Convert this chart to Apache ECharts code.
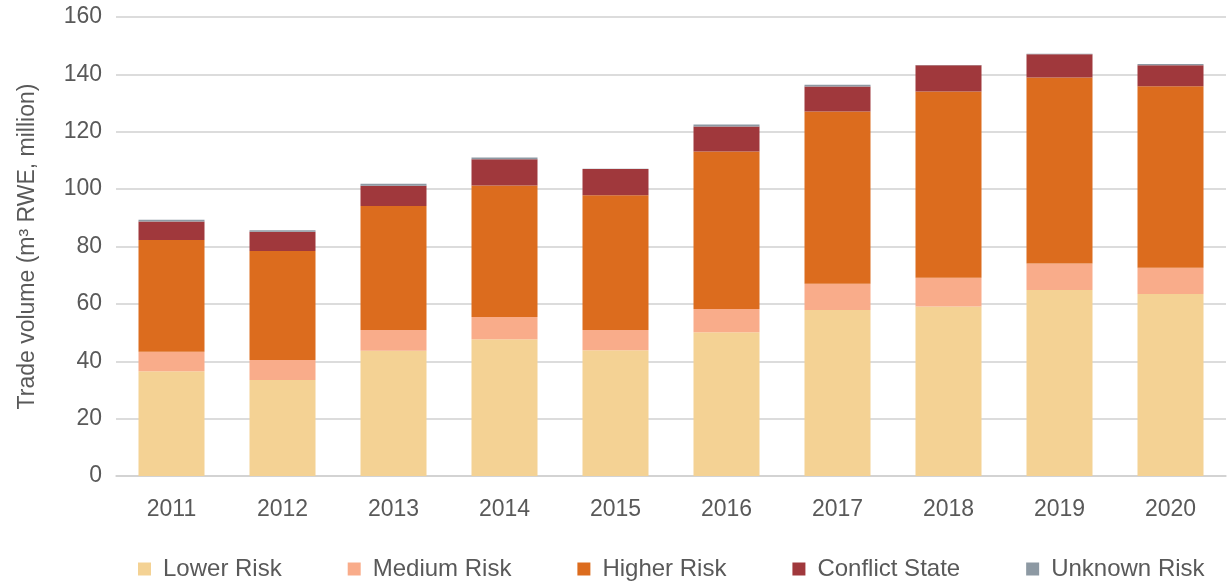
<!DOCTYPE html>
<html>
<head>
<meta charset="utf-8">
<script src="https://cdn.jsdelivr.net/npm/echarts@6/dist/echarts.min.js"></script>
<style>
    html, body { margin: 0; padding: 0; background: #ffffff; }
    #chart { width: 1227px; height: 584px; }
</style>
</head>
<body>
<div id="chart"></div>
<script>
var years = ['2011', '2012', '2013', '2014', '2015', '2016', '2017', '2018', '2019', '2020'];
var yTicks = [0, 20, 40, 60, 80, 100, 120, 140, 160];

var lowerRisk    = [36.5, 33.5, 43.7, 47.7, 43.8, 50.1, 57.9, 59.1, 64.8, 63.4];
var mediumRisk   = [6.8, 6.9, 7.2, 7.7, 7.1, 8.1, 9.1, 10.0, 9.3, 9.2];
var higherRisk   = [39.0, 38.0, 43.2, 45.9, 47.0, 54.9, 60.1, 64.9, 64.8, 63.3];
var conflictState = [6.4, 6.7, 7.1, 9.1, 9.1, 8.7, 8.7, 9.2, 8.1, 7.3];
var unknownRisk  = [0.6, 0.6, 0.7, 0.6, 0.1, 0.7, 0.6, 0.1, 0.2, 0.4];

var seriesNames = ['Lower Risk', 'Medium Risk', 'Higher Risk', 'Conflict State', 'Unknown Risk'];
var seriesColors = ['#F4D294', '#F9AC8A', '#DC6C1E', '#A0383C', '#8D99A3'];
var seriesData = [lowerRisk, mediumRisk, higherRisk, conflictState, unknownRisk];

var chart = echarts.init(document.getElementById('chart'));
var textColor = '#595959';
var fontName = '"Liberation Sans", Arial, sans-serif';

chart.setOption({
    animation: false,
    textStyle: { fontFamily: fontName },
    grid: { left: 116, right: 1, top: 17, bottom: 108, outerBoundsMode: 'none' },
    legend: {
        top: 552,
        left: 133,
        itemWidth: 13,
        itemHeight: 13,
        itemGap: 66,
        icon: 'rect',
        textStyle: { color: textColor, fontSize: 24, fontFamily: fontName, padding: [0, 0, 0, 7] }
    },
    xAxis: {
        type: 'category',
        data: years,
        axisTick: { show: false },
        axisLine: { lineStyle: { color: '#d0d0d0', width: 1.5 } },
        axisLabel: { color: textColor, fontSize: 23, margin: 22, fontFamily: fontName }
    },
    yAxis: {
        type: 'value',
        min: yTicks[0],
        max: yTicks[yTicks.length - 1],
        interval: 20,
        name: 'Trade volume (m\u00B3 RWE, million)',
        nameLocation: 'middle',
        nameGap: 77,
        nameTextStyle: { color: textColor, fontSize: 23, fontFamily: fontName },
        axisLine: { show: false },
        axisTick: { show: false },
        axisLabel: { color: textColor, fontSize: 23, margin: 14, fontFamily: fontName },
        splitLine: { lineStyle: { color: '#d0d0d0', width: 1.5 } }
    },
    series: seriesNames.map(function (name, i) {
        return {
            name: name,
            type: 'bar',
            stack: 'trade',
            barWidth: 66,
            itemStyle: { color: seriesColors[i] },
            data: seriesData[i]
        };
    })
});
</script>
</body>
</html>
